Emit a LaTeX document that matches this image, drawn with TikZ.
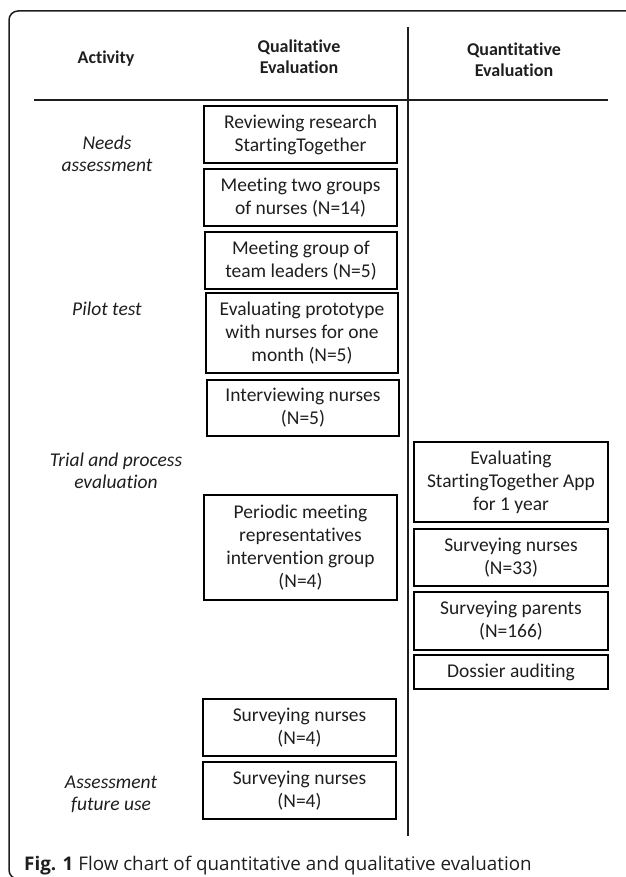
\documentclass[tikz,border=0pt]{standalone}
\usepackage{fontspec}
\setmainfont{Carlito}[Ligatures=NoCommon]
\newfontfamily\capfont{Open Sans}
\definecolor{ink}{HTML}{1E1E1E}
\begin{document}
\begin{tikzpicture}[x=1pt,y=-1pt,
  box/.style={draw=black, line width=1.6pt, align=center, inner sep=0pt, text=ink, font=\fontsize{19.5}{23}\selectfont},
  hdr/.style={align=center, text=ink, inner sep=0pt, font=\fontsize{18}{21}\selectfont\bfseries},
  act/.style={align=center, text=ink, inner sep=0pt, font=\fontsize{19.5}{22}\selectfont\itshape},
  rulel/.style={draw=ink, line width=1.3pt}]
\useasboundingbox (0,0) rectangle (625,877);
% outer frame (cropped)
\draw[draw=ink, line width=1.5pt, rounded corners=9pt] (700,11) -- (9,11) -- (9,879) -- (700,879);
% headers
\node[hdr] (hact) at (106,59) {Activity};
\node[hdr] (hqual) at (299,57) {Qualitative\\Evaluation};
\node[hdr] (hquan) at (514,60) {Quantitative\\Evaluation};
% rules
\coordinate (rl) at (34,100);
\coordinate (rr) at (608,100);
\coordinate (vt) at (408,27);
\coordinate (vb) at (408,836);
\draw[rulel] (rl) -- (rr);
\draw[rulel, line width=1.5pt] (vt) -- (vb);
% activity labels
\node[act] (aneeds) at (107,154) {Needs\\assessment};
\node[act] (apilot) at (107,309) {Pilot test};
\node[act] (atrial) at (116,471) {Trial and process\\evaluation};
\node[act] (afut) at (111,794) {Assessment\\future use};
% qualitative boxes
\node[box, minimum width=193pt, minimum height=57pt] (l1) at (300.5,134.5) {Reviewing research\\StartingTogether};
\node[box, minimum width=193pt, minimum height=57pt] (l2) at (300.5,197.5) {Meeting two groups\\of nurses (N=14)};
\node[box, minimum width=192pt, minimum height=57pt] (l3) at (301,260.5) {Meeting group of\\team leaders (N=5)};
\node[box, minimum width=192pt, minimum height=80pt] (l4) at (302,333) {Evaluating prototype\\with nurses for one\\month (N=5)};
\node[box, minimum width=192pt, minimum height=56pt] (l5) at (303,408) {Interviewing nurses\\(N=5)};
\node[box, minimum width=193pt, minimum height=105pt] (l6) at (300.5,547.5) {Periodic meeting\\representatives\\intervention group\\(N=4)};
\node[box, minimum width=193pt, minimum height=57pt] (l7) at (299.5,727.5) {Surveying nurses\\(N=4)};
\node[box, minimum width=193pt, minimum height=57pt] (l8) at (299.5,790.5) {Surveying nurses\\(N=4)};
% quantitative boxes
\node[box, minimum width=194pt, minimum height=80pt] (r1) at (511,482) {Evaluating\\StartingTogether App\\for 1 year};
\node[box, minimum width=194pt, minimum height=57pt] (r2) at (511,557.5) {Surveying nurses\\(N=33)};
\node[box, minimum width=194pt, minimum height=58pt] (r3) at (511,621) {Surveying parents\\(N=166)};
\node[box, minimum width=194pt, minimum height=34pt] (r4) at (511,672) {Dossier auditing};
% caption
\node[anchor=west, inner sep=0pt, text=ink, font=\capfont\fontsize{18.8}{22}\selectfont] (cap) at (24,866) {\textbf{Fig. 1} Flow chart of quantitative and qualitative evaluation};
\end{tikzpicture}
\end{document}
